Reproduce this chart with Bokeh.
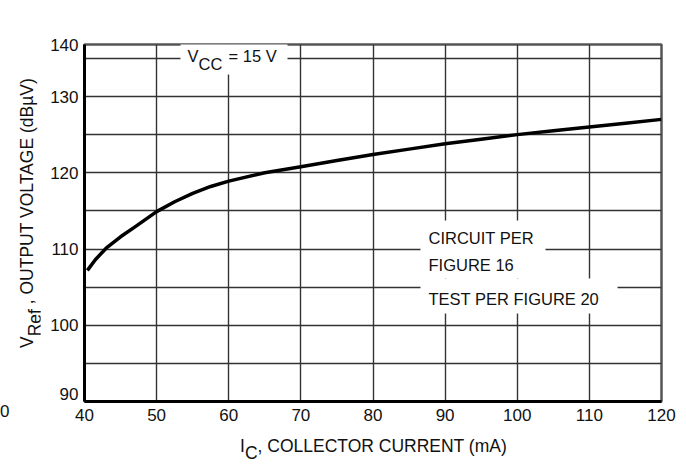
from bokeh.plotting import figure
from bokeh.models import Range1d, FixedTicker, Label, Div
from bokeh.layouts import row, column
from bokeh.embed import file_html
from bokeh.resources import INLINE

# ---- data ----
ic_ma = [40.4, 41.5, 43.0, 45.0, 47.0, 50.0, 52.5, 55.0, 57.5, 60.0, 65.0,
         70.0, 75.0, 80.0, 85.0, 90.0, 95.0, 100.0, 105.0, 110.0, 115.0, 120.0]
vref_dbuv = [107.2, 108.6, 110.1, 111.6, 112.9, 114.9, 116.2, 117.3, 118.2, 118.9, 120.0,
             120.8, 121.6, 122.4, 123.1, 123.8, 124.4, 125.0, 125.5, 126.0, 126.5, 127.0]

x_ticks = [40, 50, 60, 70, 80, 90, 100, 110, 120]
x_grid = [50, 60, 70, 80, 90, 100, 110]
y_grid = [95, 100, 105, 110, 115, 120, 125, 130, 135]
y_tick_labels = ["90", "100", "110", "120", "130", "140"]
y_tick_pos = [90.92, 100, 110, 120, 130, 136.82]

X_MIN, X_MAX = 40, 120
Y_MIN, Y_MAX = 90, 136.82

FONT = "Liberation Sans"

# page layout (pixels)
PAGE_W, PAGE_H = 686, 464
YT_W = 40            # width of the y-title strip
XT_H = 34            # height of the x-title strip
FL, FR, FT, FB = 84, 661, 44, 401   # frame edges on the page

def X(px):
    return X_MIN + (px - FL) * (X_MAX - X_MIN) / (FR - FL)
def Y(py):
    return Y_MIN + (FB - py) * (Y_MAX - Y_MIN) / (FB - FT)

fig_w = PAGE_W - YT_W
fig_h = PAGE_H - XT_H
p = figure(width=fig_w, height=fig_h,
           x_range=Range1d(X_MIN, X_MAX), y_range=Range1d(Y_MIN, Y_MAX),
           output_backend="svg", toolbar_location=None,
           min_border_left=FL - YT_W, min_border_right=PAGE_W - FR,
           min_border_top=FT, min_border_bottom=fig_h - FB)
p.background_fill_color = "white"
p.border_fill_color = "white"
p.outline_line_color = "#555555"
p.outline_line_width = 2.5

p.xaxis.ticker = FixedTicker(ticks=x_ticks)
p.yaxis.ticker = FixedTicker(ticks=y_tick_pos)
p.yaxis.major_label_overrides = {pos: lab for pos, lab in zip(y_tick_pos, y_tick_labels)}

for ax in (p.xaxis, p.yaxis):
    ax.axis_line_color = "black"
    ax.axis_line_width = 3
    ax.major_tick_line_color = None
    ax.minor_tick_line_color = None
    ax.major_tick_out = 0
    ax.major_tick_in = 0
    ax.major_label_text_font = FONT
    ax.major_label_text_font_size = "17px"
    ax.major_label_text_color = "#111111"
p.xaxis.major_label_standoff = 7
p.yaxis.major_label_standoff = 6

p.xgrid.ticker = FixedTicker(ticks=x_grid)
p.ygrid.ticker = FixedTicker(ticks=y_grid)
for g in (p.xgrid, p.ygrid):
    g.grid_line_color = "#333333"
    g.grid_line_width = 1.4

# white boxes behind the in-plot notes (they interrupt the grid)
p.quad(left=[X(180), X(420), X(420)],
       right=[X(287), X(545), X(617)],
       bottom=[Y(74), Y(278), Y(313)],
       top=[Y(40), Y(220), Y(278)],
       fill_color="white", line_color=None)

p.line(ic_ma, vref_dbuv, line_width=3.5, line_color="black", line_join="round")

def add_label(text, px, py, size="16.5px"):
    p.add_layout(Label(x=X(px), y=Y(py), text=text, text_font=FONT,
                       text_font_size=size, text_color="#111111",
                       text_baseline="middle", text_align="left"))

# V_CC = 15 V
add_label("V", 187, 55)
add_label("CC", 198, 63)
add_label("= 15 V", 228, 55)

# circuit notes
add_label("CIRCUIT PER", 428, 237)
add_label("FIGURE 16", 428, 264)
add_label("TEST PER FIGURE 20", 428, 298)

TITLE_CSS = ("font-family:'Liberation Sans',Arial,sans-serif;font-size:17.5px;"
             "color:#111111;white-space:nowrap;line-height:20px;")

x_title = Div(width=fig_w, height=XT_H, margin=0, styles={"position": "relative"},
              text=(f'<div style="{TITLE_CSS}position:absolute;left:{241 - YT_W - 1}px;top:6px;">'
                    'I<span style="position:relative;top:7px;">C</span>, COLLECTOR CURRENT (mA)'
                    '</div>'))

y_title = Div(width=YT_W, height=PAGE_H, margin=0, styles={"position": "relative"},
              text=(f'<div style="{TITLE_CSS}position:absolute;left:0px;top:0px;'
                    'transform-origin:0 0;transform:translate(17px,348px) rotate(-90deg);">'
                    'V<span style="position:relative;top:8px;">Ref</span> , OUTPUT VOLTAGE (dB\u00b5V)'
                    '</div>'
                    # fragment of a neighbouring label, shown at the far left of the reference
                    '<div style="font-family:\'Liberation Sans\',Arial,sans-serif;font-size:17px;'
                    'color:#111111;position:absolute;left:0px;top:402px;line-height:20px;">0</div>'))

layout = row(y_title, column(p, x_title, spacing=0), spacing=0)

open("out.html", "w").write(file_html(layout, INLINE))
